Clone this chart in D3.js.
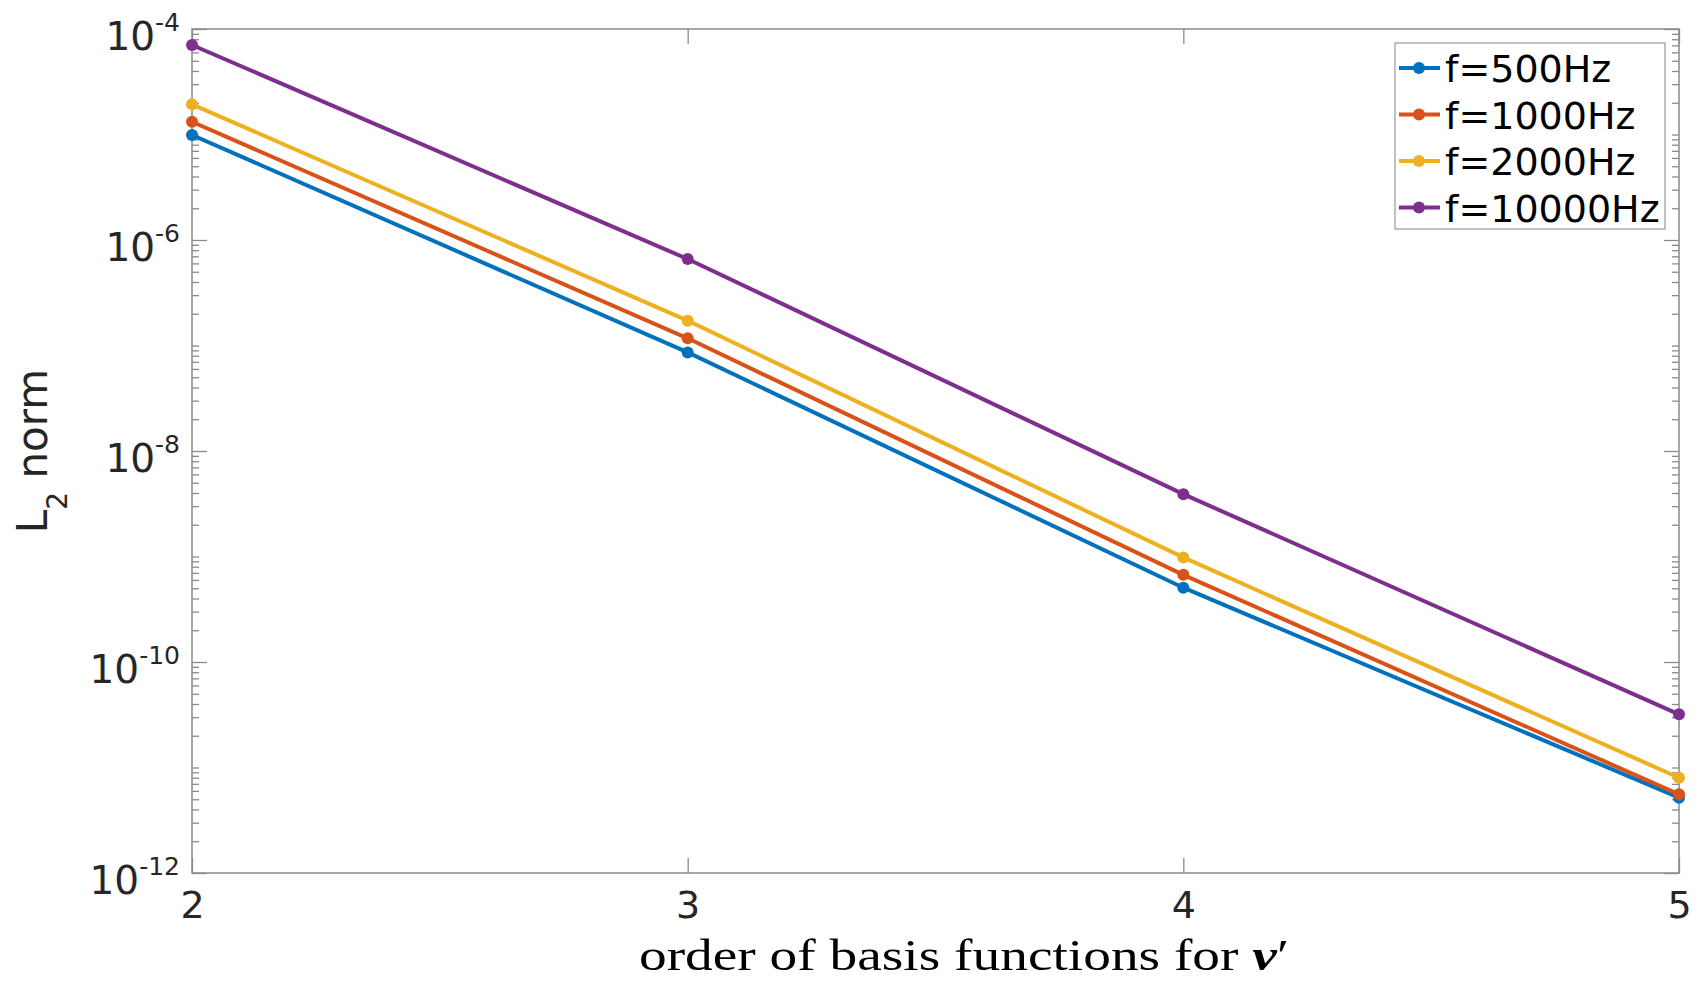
<!DOCTYPE html>
<html>
<head>
<meta charset="utf-8">
<script src="https://cdn.jsdelivr.net/npm/d3@7"></script>
<style>
  html, body { margin: 0; padding: 0; background: #fff; }
  svg { display: block; font-family: 'DejaVu Sans', sans-serif; }
</style>
</head>
<body>
<div id="chart"></div>
<script>
// basis function order on the x axis
const orders = [2, 3, 4, 5];

// L2 norm per frequency
const series = ['f=500Hz', 'f=1000Hz', 'f=2000Hz', 'f=10000Hz'];
const norm500 = [9.9e-6, 8.6e-8, 5.06e-10, 5.18e-12];
const norm1000 = [1.32e-5, 1.17e-7, 6.7e-10, 5.57e-12];
const norm2000 = [1.93e-5, 1.72e-7, 9.8e-10, 8.0e-12];
const norm10000 = [7.05e-5, 6.6e-7, 3.9e-9, 3.19e-11];
const colors = ['#0072BD', '#D95319', '#EDB120', '#7E2F8E'];

const yMajor = [-4, -6, -8, -10, -12];

const width = 1699;
const height = 982;
const margin = { top: 29, right: 20, bottom: 109, left: 192 };

const usableArea = {
  left: margin.left,
  top: margin.top,
  right: width - margin.right,
  bottom: height - margin.bottom,
  width: width - margin.left - margin.right,
  height: height - margin.top - margin.bottom,
};

const svg = d3
  .select('#chart')
  .append('svg')
  .attr('width', width)
  .attr('height', height)
  .attr('viewBox', `0 0 ${width} ${height}`);

const xScale = d3
  .scaleLinear()
  .domain([2, 5])
  .range([usableArea.left, usableArea.right]);

const yScale = d3
  .scaleLog()
  .domain([1e-12, 1e-4])
  .range([usableArea.bottom, usableArea.top]);

const axisColor = '#8a8a8a';
const textColor = '#262626';

// minor ticks: every 1..9 x 10^k that is not a labelled decade
let minorTicks = [];
for (let e = -12; e < -4; e++) {
  for (let m = 1; m <= 9; m++) {
    if (m === 1 && yMajor.includes(e)) continue;
    minorTicks.push(m * Math.pow(10, e));
  }
}
const majorTicks = yMajor.map((e) => Math.pow(10, e));

function styleAxis(g) {
  g.select('.domain').remove();
  g.selectAll('.tick line').attr('stroke', axisColor).attr('stroke-width', 1.3);
  g.selectAll('.tick text')
    .attr('fill', textColor)
    .style('font-size', '38px')
    .style('font-family', "'DejaVu Sans', sans-serif");
}

// bottom + top x ticks
svg
  .append('g')
  .attr('transform', `translate(0, ${usableArea.bottom})`)
  .call(
    d3
      .axisBottom(xScale)
      .tickValues(orders)
      .tickFormat(d3.format('d'))
      .tickSizeInner(-15)
      .tickSizeOuter(0)
      .tickPadding(18)
  )
  .call(styleAxis);

svg
  .append('g')
  .attr('transform', `translate(0, ${usableArea.top})`)
  .call(d3.axisTop(xScale).tickValues(orders).tickSizeInner(-15).tickSizeOuter(0).tickFormat(''))
  .call(styleAxis);

// left + right y ticks
[
  [d3.axisLeft, usableArea.left],
  [d3.axisRight, usableArea.right],
].forEach(([axisFn, x]) => {
  svg
    .append('g')
    .attr('transform', `translate(${x}, 0)`)
    .call(axisFn(yScale).tickValues(majorTicks).tickSizeInner(-15).tickSizeOuter(0).tickFormat(''))
    .call(styleAxis);
  svg
    .append('g')
    .attr('transform', `translate(${x}, 0)`)
    .call(axisFn(yScale).tickValues(minorTicks).tickSizeInner(-7).tickSizeOuter(0).tickFormat(''))
    .call(styleAxis);
});

// y tick labels as 10^e
const yLabels = svg.append('g').attr('fill', textColor);
yMajor.forEach((e) => {
  const t = yLabels
    .append('text')
    .attr('x', usableArea.left - 12)
    .attr('y', yScale(Math.pow(10, e)) + 21)
    .attr('text-anchor', 'end')
    .style('font-size', '39px');
  t.append('tspan').text('10');
  t.append('tspan').attr('dy', -19).style('font-size', '25px').text(`-${-e}`);
});

// box
svg
  .append('rect')
  .attr('x', usableArea.left)
  .attr('y', usableArea.top)
  .attr('width', usableArea.width)
  .attr('height', usableArea.height)
  .attr('fill', 'none')
  .attr('stroke', axisColor)
  .attr('stroke-width', 1.5);

// lines
const allNorms = [norm500, norm1000, norm2000, norm10000];
const line = d3
  .line()
  .x((d) => xScale(d[0]))
  .y((d) => yScale(d[1]));

allNorms.forEach((vals, i) => {
  const pts = orders.map((o, j) => [o, vals[j]]);
  svg
    .append('path')
    .datum(pts)
    .attr('d', line)
    .attr('fill', 'none')
    .attr('stroke', colors[i])
    .attr('stroke-width', 4);
  svg
    .append('g')
    .selectAll('circle')
    .data(pts)
    .join('circle')
    .attr('cx', (d) => xScale(d[0]))
    .attr('cy', (d) => yScale(d[1]))
    .attr('r', 6)
    .attr('fill', colors[i]);
});

// axis labels
svg
  .append('text')
  .attr('x', 639)
  .attr('y', 970)
  .attr('textLength', 650)
  .attr('lengthAdjust', 'spacingAndGlyphs')
  .attr('fill', '#000')
  .style('font-family', "'Liberation Serif', serif")
  .style('font-size', '44px')
  .call((t) => {
    t.append('tspan').text('order of basis functions for ');
    t.append('tspan').style('font-weight', 'bold').style('font-style', 'italic').text('v');
    t.append('tspan').text('\u2032');
  });

svg
  .append('text')
  .attr('transform', `translate(47, ${(usableArea.top + usableArea.bottom) / 2}) rotate(-90)`)
  .attr('text-anchor', 'middle')
  .attr('fill', textColor)
  .style('font-size', '42px')
  .call((t) => {
    t.append('tspan').text('L');
    t.append('tspan').attr('dy', 20).style('font-size', '28px').text('2');
    t.append('tspan').attr('dy', -20).text(' norm');
  });

// legend
const legend = svg.append('g');
legend
  .append('rect')
  .attr('x', 1395)
  .attr('y', 43)
  .attr('width', 270)
  .attr('height', 186)
  .attr('fill', '#fff')
  .attr('stroke', '#a0a0a0')
  .attr('stroke-width', 1.3);

series.forEach((name, i) => {
  const y = 68 + i * 46.5;
  const row = legend.append('g').attr('transform', `translate(0, ${y})`);
  row
    .append('line')
    .attr('x1', 1399)
    .attr('x2', 1440)
    .attr('stroke', colors[i])
    .attr('stroke-width', 4);
  row.append('circle').attr('cx', 1419).attr('r', 6).attr('fill', colors[i]);
  row
    .append('text')
    .attr('x', 1445)
    .attr('y', 14)
    .attr('fill', '#000')
    .style('font-size', '38px')
    .text(name);
});
</script>
</body>
</html>
